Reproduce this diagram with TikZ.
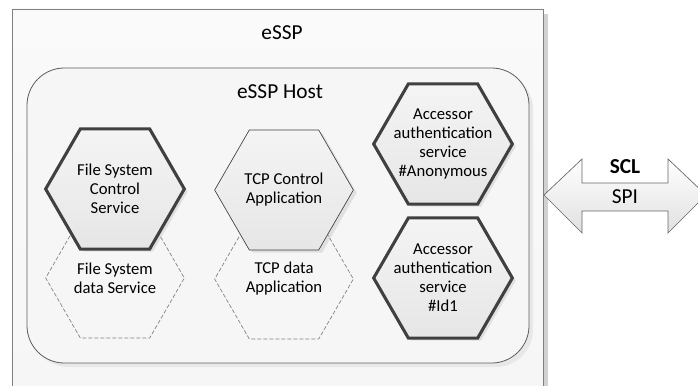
\documentclass[tikz,border=0pt]{standalone}
\usepackage{fontspec}
\setmainfont{Carlito}
\usetikzlibrary{shapes.geometric,shadows}

\definecolor{edgegray}{HTML}{404040}
\definecolor{boxgray}{HTML}{808080}
\definecolor{panelfill}{HTML}{F6F6F6}
\definecolor{hexlight}{HTML}{F4F4F4}
\definecolor{hexdark}{HTML}{E6E6E6}

\tikzset{
  hexa/.style={regular polygon, regular polygon sides=6, minimum size=104pt, inner sep=0pt},
  hexshadow/.style={drop shadow={shadow xshift=2.5pt, shadow yshift=-2pt, opacity=0.18}},
  hexbold/.style={hexa, hexshadow, draw=edgegray, line width=2.3pt,
    top color=hexlight, bottom color=hexdark},
  hexthin/.style={hexa, hexshadow, draw=edgegray, line width=0.5pt,
    top color=hexlight, bottom color=hexdark},
  hexdash/.style={hexa, draw=gray, line width=0.5pt, dash pattern=on 3pt off 1.5pt},
  hextext/.style={align=center, font=\fontsize{12.5}{14.2}\selectfont},
  title/.style={font=\fontsize{16}{19}\selectfont}
}

\begin{document}
\begin{tikzpicture}[x=0.75pt, y=-0.75pt]
            \useasboundingbox (0,0) rectangle (698,385);
            \clip (0,0) rectangle (698,385);
            %outer box and host
            \fill[black!18] (17,14) rectangle (548,400);
            \draw[boxgray, line width=0.6pt, top color=white!98!black, bottom color=panelfill] (12,9) rectangle (543,400);
            \fill[black!9, rounded corners=28pt] (31,72) rectangle (533,367);
            \draw[edgegray!85, line width=0.6pt, fill=panelfill, rounded corners=28pt] (27,68) rectangle (529,363);
            \node[title] (essp) at (282,33) {eSSP};
            \node[title] (host) at (280,92) {eSSP Host};
            \node[hexdash] (fsdata) at (115,278) {};
            \node[hexdash] (tcpdata) at (284,279) {};
            \node[hexbold] (fsctrl) at (115,189) {};
            \node[hexthin] (tcpctrl) at (284,190) {};
            \node[hexbold] (anon) at (443,144) {};
            \node[hexbold] (idone) at (443,278) {};
            \node[hextext] at (fsdata) {File System\\data Service};
            \node[hextext] at (tcpdata) {TCP data\\Application};
            \node[hextext] at (fsctrl) {File System\\Control\\Service};
            \node[hextext] at (tcpctrl) {TCP Control\\Application};
            \node[hextext] at (anon) {Accessor\\authentication\\service\\\#Anonymous};
            \node[hextext] at (idone) {Accessor\\authentication\\service\\\#Id1};
            %interface arrow
            \draw[edgegray!80, line width=0.5pt, top color=white, bottom color=black!12]
                (544,195) -- (582,159) -- (582,183) -- (668,183) -- (668,159) -- (706,195)
                -- (668,233) -- (668,211) -- (582,211) -- (582,233) -- cycle;
            \node[title, font=\fontsize{16}{19}\selectfont\bfseries] (scl) at (625,167) {SCL};
            \node[title] (spi) at (625,197) {SPI};
        \end{tikzpicture}
\end{document}
